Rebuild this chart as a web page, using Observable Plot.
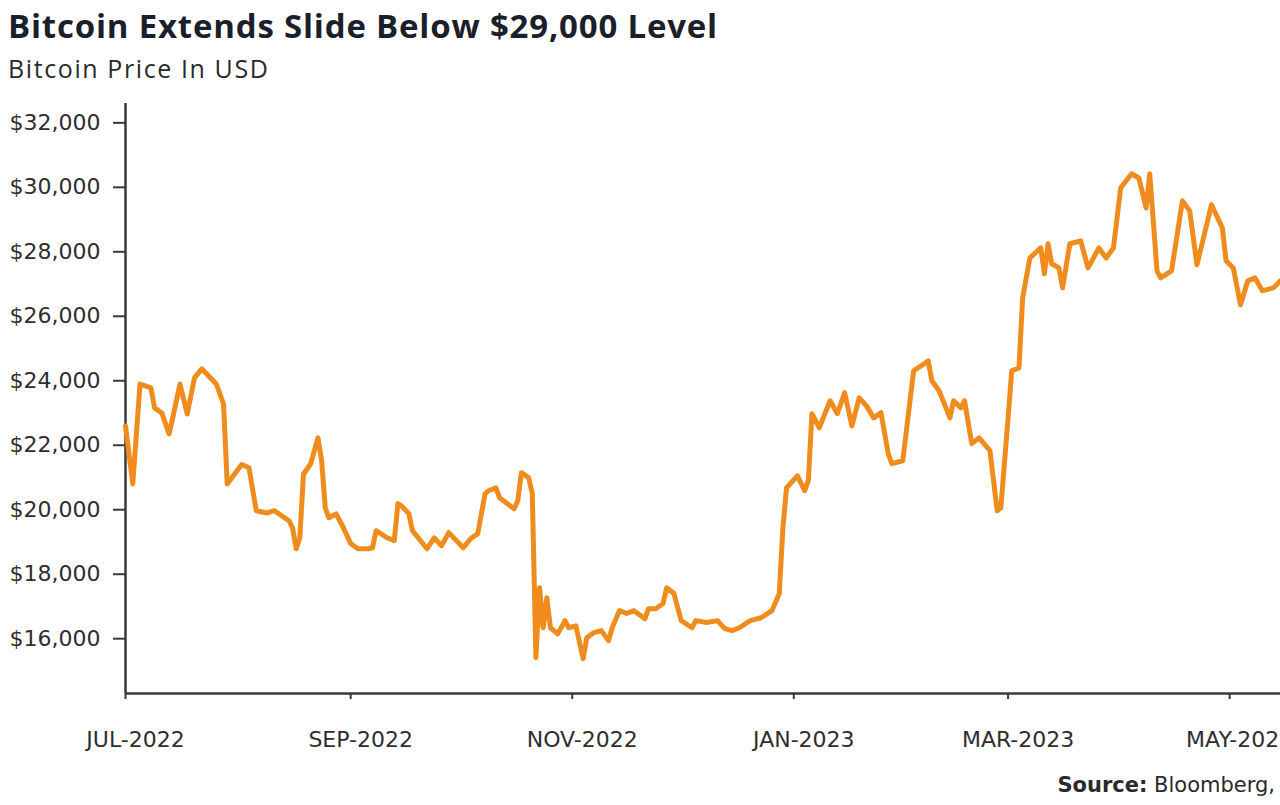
<!DOCTYPE html>
<html>
<head>
<meta charset="utf-8">
<script src="https://cdn.jsdelivr.net/npm/d3@7"></script>
<script src="https://cdn.jsdelivr.net/npm/@observablehq/plot@0.6"></script>
<style>
  html, body { margin: 0; padding: 0; background: #ffffff; }
  #page { position: relative; width: 1280px; height: 805px; overflow: hidden; background: #ffffff; }
  #title { position: absolute; left: 8px; top: 4px; font-family: "Open Sans", Roboto, sans-serif; font-weight: 700; font-size: 33px; line-height: 44px; letter-spacing: 0.8px; color: #1b1f2b; white-space: nowrap; }
  #subtitle { position: absolute; left: 8px; top: 51px; font-family: "Open Sans", Roboto, sans-serif; font-weight: 400; font-size: 25px; line-height: 34px; letter-spacing: 1.6px; color: #2a2a2a; white-space: nowrap; }
  #chart { position: absolute; left: 0; top: 92px; }
  #source { position: absolute; right: 5px; top: 773px; font-family: "DejaVu Sans", sans-serif; font-size: 21px; color: #2a2a2a; white-space: nowrap; }
  #source b { font-weight: 700; }
</style>
</head>
<body>
<div id="page">
  <div id="title">Bitcoin Extends Slide Below $29,000 Level</div>
  <div id="subtitle">Bitcoin Price In USD</div>
  <div id="chart"></div>
  <div id="source"><b>Source:</b> Bloomberg,</div>
</div>
<script>
// ---- Data ----
const dates = [
  "2022-07-01","2022-07-03","2022-07-05","2022-07-08","2022-07-09","2022-07-11","2022-07-13","2022-07-14","2022-07-16","2022-07-18",
  "2022-07-20","2022-07-22","2022-07-26","2022-07-28","2022-07-29","2022-07-31","2022-08-02","2022-08-04","2022-08-06","2022-08-09",
  "2022-08-11","2022-08-15","2022-08-16","2022-08-17","2022-08-18","2022-08-19","2022-08-21","2022-08-23","2022-08-24","2022-08-25",
  "2022-08-26","2022-08-28","2022-08-30","2022-09-01","2022-09-03","2022-09-06","2022-09-07","2022-09-08","2022-09-11","2022-09-13",
  "2022-09-14","2022-09-15","2022-09-17","2022-09-18","2022-09-22","2022-09-24","2022-09-26","2022-09-28","2022-10-02","2022-10-04",
  "2022-10-06","2022-10-08","2022-10-09","2022-10-11","2022-10-12","2022-10-16","2022-10-17","2022-10-18","2022-10-20","2022-10-21",
  "2022-10-22","2022-10-23","2022-10-24","2022-10-25","2022-10-26","2022-10-28","2022-10-30","2022-10-31","2022-11-02","2022-11-04",
  "2022-11-05","2022-11-07","2022-11-09","2022-11-11","2022-11-12","2022-11-14","2022-11-16","2022-11-18","2022-11-21","2022-11-22",
  "2022-11-24","2022-11-26","2022-11-27","2022-11-29","2022-12-01","2022-12-04","2022-12-05","2022-12-08","2022-12-11","2022-12-13",
  "2022-12-15","2022-12-17","2022-12-20","2022-12-23","2022-12-26","2022-12-28","2022-12-29","2022-12-30","2023-01-02","2023-01-04",
  "2023-01-05","2023-01-06","2023-01-08","2023-01-11","2023-01-13","2023-01-15","2023-01-17","2023-01-19","2023-01-21","2023-01-23",
  "2023-01-25","2023-01-27","2023-01-28","2023-01-31","2023-02-03","2023-02-05","2023-02-07","2023-02-08","2023-02-10","2023-02-13",
  "2023-02-14","2023-02-16","2023-02-17","2023-02-19","2023-02-21","2023-02-24","2023-02-26","2023-02-27","2023-03-01","2023-03-02",
  "2023-03-04","2023-03-05","2023-03-07","2023-03-10","2023-03-11","2023-03-12","2023-03-13","2023-03-15","2023-03-16","2023-03-18",
  "2023-03-21","2023-03-23","2023-03-26","2023-03-28","2023-03-30","2023-04-01","2023-04-04","2023-04-06","2023-04-08","2023-04-09",
  "2023-04-11","2023-04-12","2023-04-15","2023-04-18","2023-04-20","2023-04-22","2023-04-26","2023-04-29","2023-04-30","2023-05-02",
  "2023-05-04","2023-05-06","2023-05-08","2023-05-10","2023-05-13","2023-05-15"
];
const prices = [
  22600,20800,23900,23780,23160,23000,22350,22850,23900,22970,
  24090,24370,23900,23280,20800,21100,21400,21300,19970,19900,
  19970,19660,19440,18790,19130,21100,21430,22230,21520,20060,
  19750,19870,19440,18950,18790,18790,18820,19350,19130,19040,
  20190,20120,19880,19350,18790,19130,18880,19290,18820,19100,
  19260,20500,20590,20680,20370,20030,20280,21150,20990,20500,
  15410,17580,16340,17270,16340,16150,16560,16340,16400,15380,
  16030,16190,16250,15940,16340,16870,16780,16870,16620,16930,
  16930,17090,17580,17400,16560,16340,16560,16500,16560,16310,
  16250,16340,16560,16650,16870,17400,19440,20680,21050,20590,
  20900,22980,22540,23380,22980,23630,22600,23470,23220,22850,
  23010,21740,21430,21520,24310,24460,24620,24000,23690,22850,
  23380,23160,23380,22050,22230,21830,19970,20060,22850,24310,
  24400,26570,27810,28120,27320,28250,27630,27500,26880,28250,
  28340,27500,28120,27810,28120,29980,30420,30290,29360,30420,
  27410,27190,27410,29580,29270,27600,29460,28740,27720,27500,
  26360,27100,27190,26790,26880,27100
];
const yTicks = [16000, 18000, 20000, 22000, 24000, 26000, 28000, 30000, 32000];
const xTickDates = ["2022-07-01","2022-09-01","2022-11-01","2023-01-01","2023-03-01","2023-05-01"];
const xTickLabels = ["JUL-2022","SEP-2022","NOV-2022","JAN-2023","MAR-2023","MAY-2023"];
const xDomain = ["2022-07-01", "2023-05-15"];
const yDomain = [14300, 32600];

// ---- Build ----
const data = dates.map((d, i) => ({date: new Date(d), price: prices[i]}));
const xTicks = xTickDates.map(d => new Date(d));
const labelOf = new Map(xTicks.map((d, i) => [+d, xTickLabels[i]]));
const xDom = xDomain.map(d => new Date(d));

const axisColor = "#3a3a3a";
const chart = Plot.plot({
  width: 1280,
  height: 668,
  marginLeft: 125,
  marginRight: 0,
  marginTop: 11,
  marginBottom: 67,
  style: {fontFamily: "'DejaVu Sans', sans-serif", fontSize: "22px", color: "#2e2e2e", background: "transparent"},
  x: {type: "utc", domain: xDom},
  y: {domain: yDomain},
  marks: [
    Plot.axisY({ticks: yTicks, tickFormat: d3.format("$,"), tickSize: 12, tickPadding: 13, strokeWidth: 2, stroke: axisColor, label: null}),
    Plot.axisX({ticks: xTicks, tickFormat: () => "", tickSize: 6, strokeWidth: 2, stroke: axisColor, label: null}),
    Plot.axisX({ticks: xTicks, tickFormat: d => labelOf.get(+d), tickSize: 0, tickPadding: 38, dx: 10, label: null}),
    Plot.ruleX([xDom[0]], {y1: yDomain[0], y2: yDomain[1], stroke: axisColor, strokeWidth: 2.5}),
    Plot.ruleY([yDomain[0]], {stroke: axisColor, strokeWidth: 2.5}),
    Plot.line(data, {x: "date", y: "price", stroke: "#f08c1e", strokeWidth: 5, strokeLinejoin: "round", strokeLinecap: "round"})
  ]
});
document.getElementById("chart").appendChild(chart);
</script>
</body>
</html>
